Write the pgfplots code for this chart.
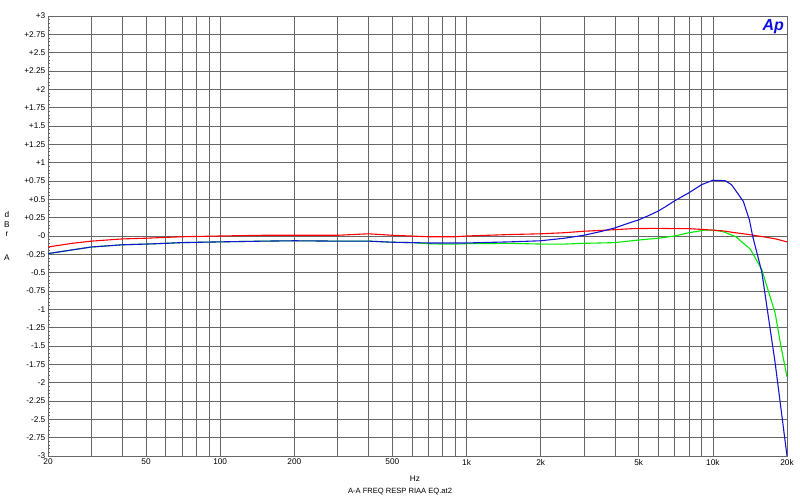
\documentclass[border=0pt]{standalone}
\usepackage{fontspec}
\setmainfont{Liberation Sans}
\usepackage{pgfplots}
\pgfplotsset{compat=1.18}
\definecolor{gridc}{gray}{0.40}
\definecolor{apblue}{RGB}{15,15,225}
\definecolor{cred}{RGB}{255,0,0}
\definecolor{cblue}{RGB}{20,20,210}
\definecolor{cgreen}{RGB}{0,235,0}
\begin{document}
\begin{tikzpicture}
\useasboundingbox (-48bp,-41bp) rectangle (752bp,456bp);
\begin{axis}[
  at={(0,0)}, anchor=south west,
  scale only axis, width=739bp, height=440bp,
  xmode=log, log basis x=10,
  xmin=20, xmax=20000, ymin=-3, ymax=3,
  xtick={20,30,40,50,60,70,80,90,100,200,300,400,500,600,700,800,900,1000,2000,3000,4000,5000,6000,7000,8000,9000,10000,20000},
  xticklabels={20,{},{},50,{},{},{},{},100,200,{},{},500,{},{},{},{},1k,2k,{},{},5k,{},{},{},{},10k,20k},
  ytick={-3,-2.75,-2.5,-2.25,-2,-1.75,-1.5,-1.25,-1,-0.75,-0.5,-0.25,0,0.25,0.5,0.75,1,1.25,1.5,1.75,2,2.25,2.5,2.75,3},
  yticklabels={-3,-2.75,-2.5,-2.25,-2,-1.75,-1.5,-1.25,-1,-0.75,-0.5,-0.25,-0,+0.25,+0.5,+0.75,+1,+1.25,+1.5,+1.75,+2,+2.25,+2.5,+2.75,+3},
  xminorticks=false,
  minor y tick num=4,
  grid=major,
  major grid style={gridc, line width=0.6bp},
  axis line style={gridc, line width=0.8bp},
  tick align=inside, xtick pos=bottom, ytick pos=left,
  major tick length=4bp, minor tick length=2.5bp,
  tick style={gridc, line width=0.5bp},
  ticklabel style={font=\fontsize{8.3}{9}\selectfont},
  yticklabel style={inner sep=1.5bp, xshift=-1bp},
  xticklabel style={inner sep=1.5bp, yshift=-1.5bp},
  clip=true,
]
% green
\addplot[cgreen, line width=1.1bp] coordinates {
(20,-0.24) (25,-0.19) (30,-0.15) (40,-0.12) (50,-0.11) (60,-0.10) (70,-0.09) (100,-0.08) (150,-0.07) (200,-0.065) (300,-0.07) (400,-0.07) (500,-0.085)
(600,-0.09) (700,-0.105) (800,-0.11) (900,-0.11) (1000,-0.105) (1500,-0.10) (2000,-0.11) (2500,-0.11) (3000,-0.10) (3500,-0.095) (4000,-0.09)
(5000,-0.055) (6000,-0.03) (7000,0.0) (8000,0.045) (9300,0.08) (10000,0.08) (11000,0.06) (12400,-0.01) (14200,-0.18) (15800,-0.46) (17900,-1.05) (18800,-1.46) (20000,-1.92)
};
% red
\addplot[cred, line width=1.1bp] coordinates {
(20,-0.15) (25,-0.10) (30,-0.07) (40,-0.04) (50,-0.03) (70,-0.01) (100,0.0) (150,0.01) (200,0.01) (300,0.01) (400,0.03) (500,0.01) (700,-0.01) (900,-0.01)
(1000,0.0) (1500,0.02) (2000,0.03) (2500,0.045) (3000,0.065) (3700,0.08) (4700,0.10) (6000,0.105) (7000,0.10) (8000,0.10) (9000,0.09) (10000,0.08)
(11000,0.07) (12000,0.05) (14000,0.02) (16000,-0.01) (18000,-0.04) (20000,-0.08)
};
% blue
\addplot[cblue, line width=1.1bp] coordinates {
(20,-0.24) (25,-0.19) (30,-0.15) (40,-0.12) (50,-0.11) (60,-0.10) (70,-0.09) (100,-0.08) (150,-0.07) (200,-0.065) (300,-0.07) (400,-0.07) (500,-0.085)
(700,-0.095) (1000,-0.095) (1500,-0.08) (2000,-0.065) (2500,-0.03) (3000,0.01) (3500,0.06) (4000,0.11) (4500,0.17) (5000,0.22) (5500,0.28) (6000,0.34)
(6500,0.41) (7000,0.48) (8000,0.59) (9000,0.70) (10000,0.76) (11200,0.755) (11900,0.70) (12500,0.60) (13300,0.47) (14070,0.22) (14500,0.0)
(15800,-0.49) (17900,-1.73) (20000,-3.0)
};
\node[anchor=base east, font=\fontsize{16}{16}\selectfont\bfseries\itshape, text=apblue, inner sep=0pt] at (rel axis cs:1,1) [xshift=-3bp, yshift=-14bp] {Ap};
\end{axis}
\begin{scope}[every node/.style={font=\fontsize{8.3}{9}\selectfont, inner sep=0pt}]
\node at (-41bp,241bp) {d};
\node at (-41bp,231.5bp) {B};
\node at (-41bp,221.5bp) {r};
\node at (-41bp,198.5bp) {A};
\node at (367bp,-22.3bp) {Hz};
\node[font=\fontsize{7.6}{9}\selectfont] at (352bp,-35.5bp) {A-A FREQ RESP RIAA EQ.at2};
\end{scope}
\end{tikzpicture}
\end{document}
